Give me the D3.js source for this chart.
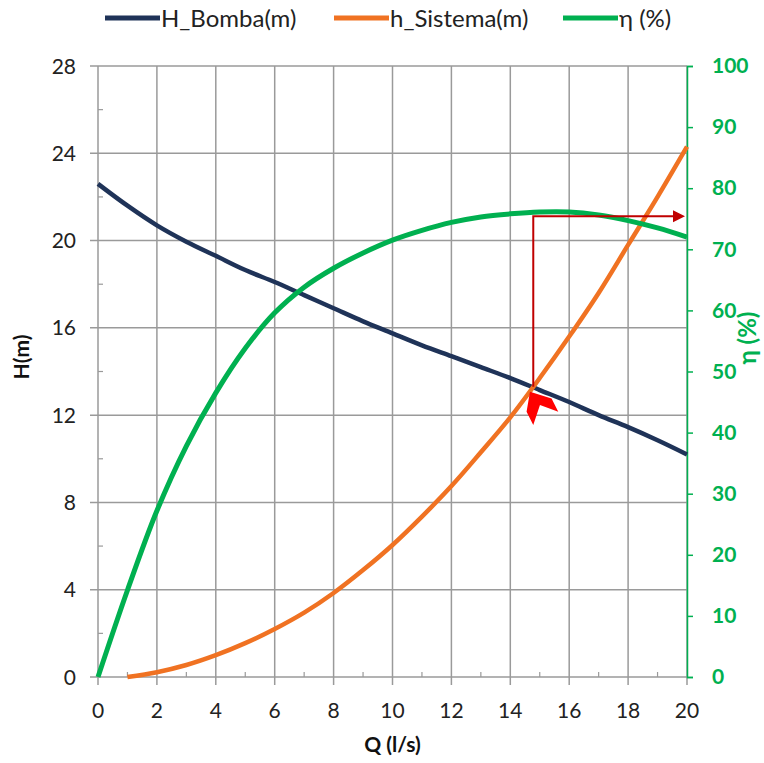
<!DOCTYPE html>
<html><head><meta charset="utf-8">
<script src="https://cdn.jsdelivr.net/npm/d3@7"></script>
<style>
html,body{margin:0;padding:0;background:#fff;}
svg{display:block;font-family:Lato,"Open Sans",sans-serif;}
</style></head>
<body>
<svg id="chart" width="764" height="763"></svg>
<script>
// ---- data ----
const qBomba   = [0,1,2,3,4,5,6,7,8,9,10,11,12,13,14,15,16,17,18,19,20];
const hBomba   = [22.6,21.6,20.7,19.95,19.3,18.65,18.1,17.5,16.9,16.3,15.75,15.2,14.7,14.2,13.7,13.15,12.6,12.0,11.45,10.85,10.2];
const qSistema = [1,2,3,4,5,6,7,8,9,10,11,12,13,14,15,16,17,18,19,20];
const hSistema = [0,0.22,0.55,1.0,1.55,2.2,2.95,3.85,4.9,6.05,7.35,8.75,10.3,11.9,13.7,15.6,17.6,19.8,22.0,24.3];
const qEta     = [0,1,2,3,4,5,6,7,8,9,10,11,12,13,14,15,16,17,18,19,20];
const eta      = [0,14.2,27.2,37.8,46.5,53.8,59.6,63.8,66.9,69.4,71.5,73.1,74.4,75.3,75.8,76.1,76.1,75.6,74.7,73.5,72.0];
const xTicks   = [0,2,4,6,8,10,12,14,16,18,20];
const yTicks   = [0,4,8,12,16,20,24,28];
const y2Ticks  = [0,10,20,30,40,50,60,70,80,90,100];
const opPoint  = {q:14.78, h:13.3, eta:75.4};
const legendLabels = ["H_Bomba(m)","h_Sistema(m)","η (%)"];

// ---- setup ----
const svg = d3.select("#chart");
const L=98, R=687, T=66, B=677;
const x = d3.scaleLinear().domain([0,20]).range([L,R]);
const y = d3.scaleLinear().domain([0,28]).range([B,T]);
const y2 = d3.scaleLinear().domain([0,100]).range([B,T]);
const cBlue="#1f3358", cOrange="#f07222", cGreen="#00b050", cGrid="#9a9a9a", cRed="#c00000";

// grid
const g = svg.append("g");
g.selectAll(".vg").data(xTicks).join("line")
  .attr("x1",d=>x(d)).attr("x2",d=>x(d)).attr("y1",T).attr("y2",B+8)
  .attr("stroke",cGrid).attr("stroke-width",1.5);
g.selectAll(".hg").data(yTicks).join("line")
  .attr("x1",L-8).attr("x2",R).attr("y1",d=>y(d)).attr("y2",d=>y(d))
  .attr("stroke",cGrid).attr("stroke-width",1.5);
// minor ticks
g.selectAll(".mx").data(d3.range(1,20,2)).join("line")
  .attr("x1",d=>x(d)).attr("x2",d=>x(d)).attr("y1",B).attr("y2",B-5)
  .attr("stroke",cGrid).attr("stroke-width",1.2);
g.selectAll(".my").data(d3.range(2,28,4)).join("line")
  .attr("x1",L).attr("x2",L+5).attr("y1",d=>y(d)).attr("y2",d=>y(d))
  .attr("stroke",cGrid).attr("stroke-width",1.2);

// left axis labels
svg.append("g").selectAll("text").data(yTicks).join("text")
  .attr("x",L-22).attr("y",d=>y(d)).attr("dy","0.36em").attr("text-anchor","end")
  .attr("font-size",21).attr("fill","#222").text(d=>d);
// bottom labels
svg.append("g").selectAll("text").data(xTicks).join("text")
  .attr("x",d=>x(d)).attr("y",B+41).attr("text-anchor","middle")
  .attr("font-size",21).attr("fill","#222").text(d=>d);

// right axis
const ra = svg.append("g").attr("transform",`translate(${R},0)`)
  .call(d3.axisRight(y2).tickValues(y2Ticks).tickSize(6).tickPadding(19));
ra.select(".domain").attr("stroke",cGreen).attr("stroke-width",1.5);
ra.selectAll(".tick line").attr("stroke",cGreen).attr("stroke-width",1.5);
ra.selectAll(".tick text").attr("fill",cGreen).attr("font-size",21).attr("font-weight","bold")
  .attr("font-family","Lato,'Open Sans',sans-serif");

// axis titles
svg.append("text").attr("transform",`translate(29,357) rotate(-90)`)
  .attr("text-anchor","middle").attr("font-size",21).attr("font-weight","bold").attr("fill","#111").text("H(m)");
svg.append("text").attr("x",(L+R)/2).attr("y",752)
  .attr("text-anchor","middle").attr("font-size",21).attr("font-weight","bold").attr("fill","#111").text("Q (l/s)");
svg.append("text").attr("transform",`translate(756,338) rotate(-90)`)
  .attr("text-anchor","middle").attr("font-size",24).attr("font-weight","bold").attr("fill",cGreen).text("η (%)");

// lines
const curve = d3.curveCatmullRom.alpha(0.5);
const lineH = d3.line().x((d,i)=>x(qBomba[i])).y(d=>y(d)).curve(curve);
const lineS = d3.line().x((d,i)=>x(qSistema[i])).y(d=>y(d)).curve(curve);
const lineE = d3.line().x((d,i)=>x(qEta[i])).y(d=>y2(d)).curve(curve);
svg.append("path").datum(hBomba).attr("d",lineH).attr("fill","none").attr("stroke",cBlue).attr("stroke-width",4.5);
svg.append("path").datum(hSistema).attr("d",lineS).attr("fill","none").attr("stroke",cOrange).attr("stroke-width",4.5);
svg.append("path").datum(eta).attr("d",lineE).attr("fill","none").attr("stroke",cGreen).attr("stroke-width",5);

// operating point annotation
const ox=x(opPoint.q), oy=y(opPoint.h), ey=y2(opPoint.eta);
svg.append("path").attr("d",`M${ox},${oy} V${ey} H${R-12}`)
  .attr("fill","none").attr("stroke",cRed).attr("stroke-width",2);
svg.append("path").attr("d",`M${R-2},${ey} L${R-14},${ey-6} L${R-14},${ey+6} Z`).attr("fill",cRed);
const chev=[[-3.3,5],[18.3,11.7],[25,25],[6.7,18.3],[0,38.3],[-6.7,25]];
svg.append("polygon").attr("points",chev.map(p=>[ox+p[0],oy+p[1]].join(",")).join(" "))
  .attr("fill","#ff0000");

// legend
const leg = [{c:cBlue,x:105},{c:cOrange,x:334},{c:cGreen,x:563}];
const lg = svg.append("g");
leg.forEach((d,i)=>{
  lg.append("line").attr("x1",d.x).attr("x2",d.x+55).attr("y1",18).attr("y2",18)
    .attr("stroke",d.c).attr("stroke-width",5);
  lg.append("text").attr("x",d.x+56).attr("y",18).attr("dy","0.36em")
    .attr("font-size",24).attr("fill","#222").text(legendLabels[i]);
});
</script>
</body></html>
